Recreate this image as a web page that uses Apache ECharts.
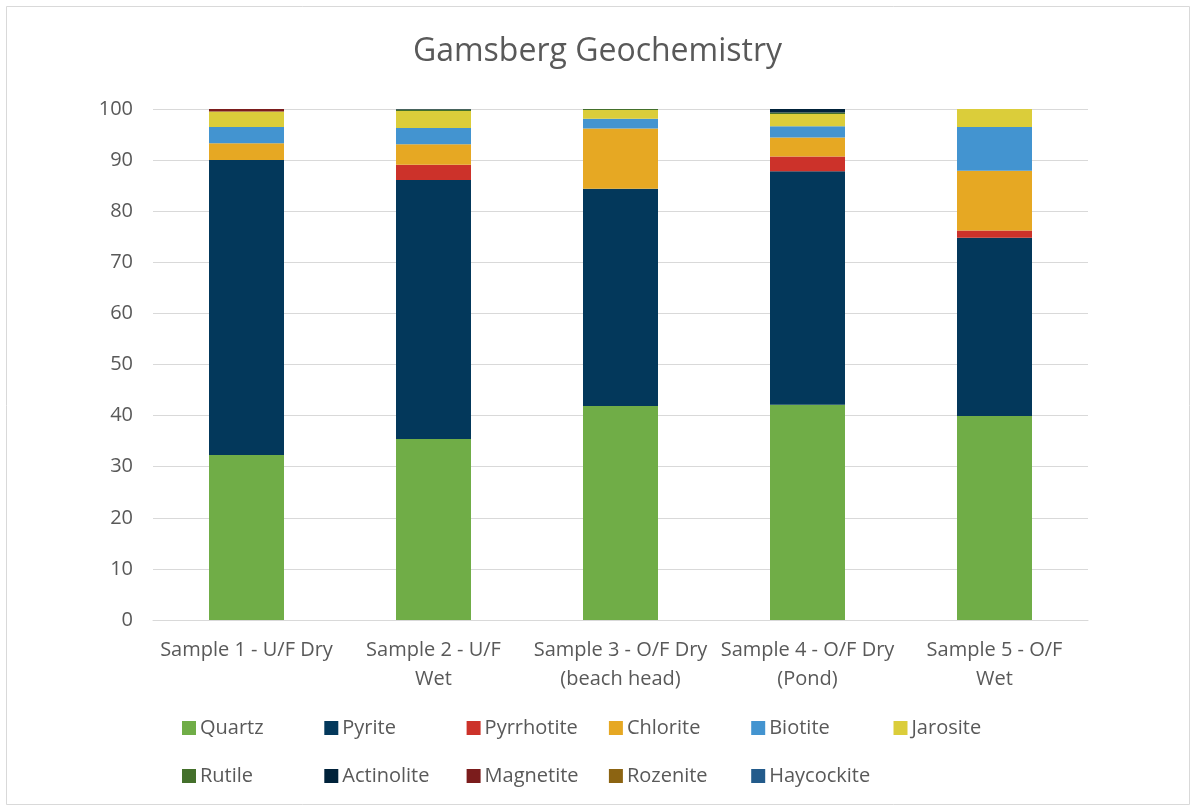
<!DOCTYPE html>
<html><head><meta charset="utf-8">
<script src="https://cdn.jsdelivr.net/npm/echarts@6/dist/echarts.min.js"></script>
<style>html,body{margin:0;padding:0;background:#fff}#c{width:1195px;height:807px}</style>
</head><body><div id="c"></div>
<script>
const categories = ["Sample 1 - U/F Dry","Sample 2 - U/F\nWet","Sample 3 - O/F Dry\n(beach head)","Sample 4 - O/F Dry\n(Pond)","Sample 5 - O/F\nWet"];
const quartz     = [32.3, 35.4, 41.9, 42.1, 39.9];
const pyrite     = [57.7, 50.7, 42.5, 45.7, 34.9];
const pyrrhotite = [0, 3.0, 0, 2.9, 1.4];
const chlorite   = [3.3, 4.0, 11.8, 3.7, 11.7];
const biotite    = [3.2, 3.2, 1.9, 2.2, 8.6];
const jarosite   = [3.0, 3.3, 1.7, 2.4, 3.5];
const rutile     = [0, 0.3, 0.2, 0.3, 0];
const actinolite = [0, 0.4, 0, 0.7, 0];
const magnetite  = [0.5, 0, 0, 0, 0];
const rozenite   = [0, 0, 0, 0, 0];
const haycockite = [0, 0, 0, 0, 0];
const yTicks = [0,10,20,30,40,50,60,70,80,90,100];

const seriesDefs = [
  ["Quartz", quartz, "#70AD47"],
  ["Pyrite", pyrite, "#03385B"],
  ["Pyrrhotite", pyrrhotite, "#CC322A"],
  ["Chlorite", chlorite, "#E6A823"],
  ["Biotite", biotite, "#4394D0"],
  ["Jarosite", jarosite, "#DBCD3A"],
  ["Rutile", rutile, "#44702B"],
  ["Actinolite", actinolite, "#00223A"],
  ["Magnetite", magnetite, "#7B1C1C"],
  ["Rozenite", rozenite, "#8C6412"],
  ["Haycockite", haycockite, "#235B8B"]
];
const font = "'Open Sans', sans-serif";
const names = seriesDefs.map(d=>d[0]);
const legends = names.map((n,i)=>({
  left:177 + (i%6)*142.3, top: i<6 ? 713 : 761,
  itemWidth:14,itemHeight:14,itemGap:6,icon:'rect',
  textStyle:{fontFamily:font,fontSize:20,color:'#595959',padding:[0,0,0,-1]},
  data:[n]
}));
const chart = echarts.init(document.getElementById('c'));
chart.setOption({
  animation:false,
  backgroundColor:'#fff',
  graphic:[{type:'rect',shape:{x:6.5,y:6.5,width:1183,height:798},style:{fill:'none',stroke:'#D9D9D9',lineWidth:1}}],
  title:{text:'Gamsberg Geochemistry',left:'center',top:31,textStyle:{fontFamily:font,fontSize:32,fontWeight:'normal',color:'#595959'}},
  grid:{left:153,right:107,top:109,bottom:187},
  legend:legends,
  xAxis:{type:'category',data:categories,
    axisLine:{lineStyle:{color:'#D9D9D9'}},axisTick:{show:false},
    axisLabel:{fontFamily:font,fontSize:20,color:'#595959',interval:0,lineHeight:29,margin:16}},
  yAxis:{type:'value',min:0,max:100,interval:10,
    axisLine:{show:false},axisTick:{show:false},
    splitLine:{lineStyle:{color:'#D9D9D9'}},
    axisLabel:{fontFamily:font,fontSize:20,color:'#595959',margin:20,
      formatter:v=>yTicks.includes(v)?String(v):''}},
  series:seriesDefs.map(d=>({name:d[0],type:'bar',stack:'a',data:d[1],barWidth:75,
    itemStyle:{color:d[2]}}))
});
</script></body></html>
